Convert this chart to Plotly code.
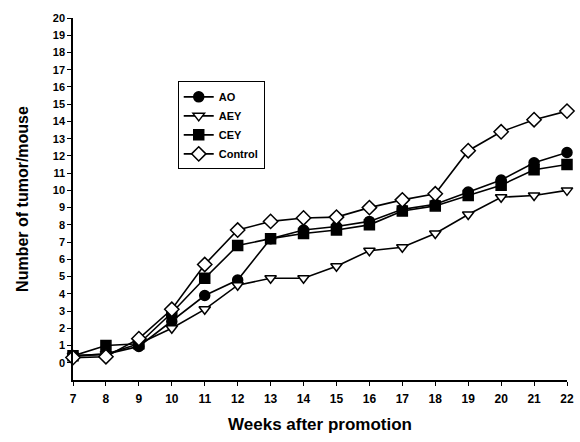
import plotly.graph_objects as go

weeks = [7, 8, 9, 10, 11, 12, 13, 14, 15, 16, 17, 18, 19, 20, 21, 22]
ao = [0.4, 0.5, 0.95, 2.4, 3.9, 4.8, 7.2, 7.7, 7.9, 8.2, 8.9, 9.2, 9.9, 10.6, 11.6, 12.2]
aey = [0.4, 0.5, 1.1, 2.0, 3.1, 4.5, 4.9, 4.9, 5.6, 6.5, 6.7, 7.5, 8.6, 9.6, 9.7, 10.0]
cey = [0.4, 1.0, 1.1, 2.9, 4.9, 6.8, 7.2, 7.5, 7.7, 8.0, 8.8, 9.1, 9.7, 10.3, 11.2, 11.5]
control = [0.3, 0.35, 1.4, 3.1, 5.7, 7.7, 8.2, 8.4, 8.45, 9.0, 9.45, 9.8, 12.3, 13.4, 14.1, 14.6]

series = [
    ("AO", ao, "circle", "black"),
    ("AEY", aey, "triangle-down", "white"),
    ("CEY", cey, "square", "black"),
    ("Control", control, "diamond", "white"),
]

fig = go.Figure()
for name, vals, sym, fill in series:
    fig.add_trace(go.Scatter(
        x=weeks, y=vals, name=name, mode="lines+markers", cliponaxis=False,
        line=dict(color="black", width=1.6),
        marker=dict(symbol=sym, size=10 if sym != "diamond" else 11, color=fill,
                    line=dict(color="black", width=1.5)),
    ))

font_family = "Liberation Sans, Arial, sans-serif"
fig.update_layout(
    width=580, height=442,
    margin=dict(l=73, r=13, t=18, b=62, autoexpand=False),
    paper_bgcolor="white", plot_bgcolor="white",
    font=dict(family=font_family, color="black"),
    showlegend=True,
    legend=dict(
        x=0.212, y=0.825, xanchor="left", yanchor="top",
        bordercolor="black", borderwidth=1, bgcolor="white",
        font=dict(size=11, family=font_family, weight="bold"),
        tracegroupgap=0, itemwidth=30,
    ),
    xaxis=dict(
        range=[7, 22], tickvals=weeks, ticks="outside", ticklen=4,
        tickwidth=1.2, tickcolor="black", automargin=False,
        ticklabelstandoff=3,
        showline=True, linecolor="black", linewidth=1.5,
        showgrid=False, zeroline=False,
        tickfont=dict(size=12, family=font_family, weight="bold"),
        title=dict(text="Weeks after promotion", standoff=13,
                   font=dict(size=17, family=font_family, weight="bold")),
    ),
    yaxis=dict(
        range=[-1, 20], tickvals=list(range(0, 21)), ticks="outside", ticklen=4,
        tickwidth=1.2, tickcolor="black", automargin=False,
        showline=True, linecolor="black", linewidth=1.5,
        showgrid=False, zeroline=False,
        tickfont=dict(size=11, family=font_family, weight="bold"),
        title=dict(text="Number of tumor/mouse", standoff=20,
                   font=dict(size=16, family=font_family, weight="bold")),
    ),
)

fig.write_html("out.html", config={"displayModeBar": False},
               post_script="document.body.style.margin='0px';")
